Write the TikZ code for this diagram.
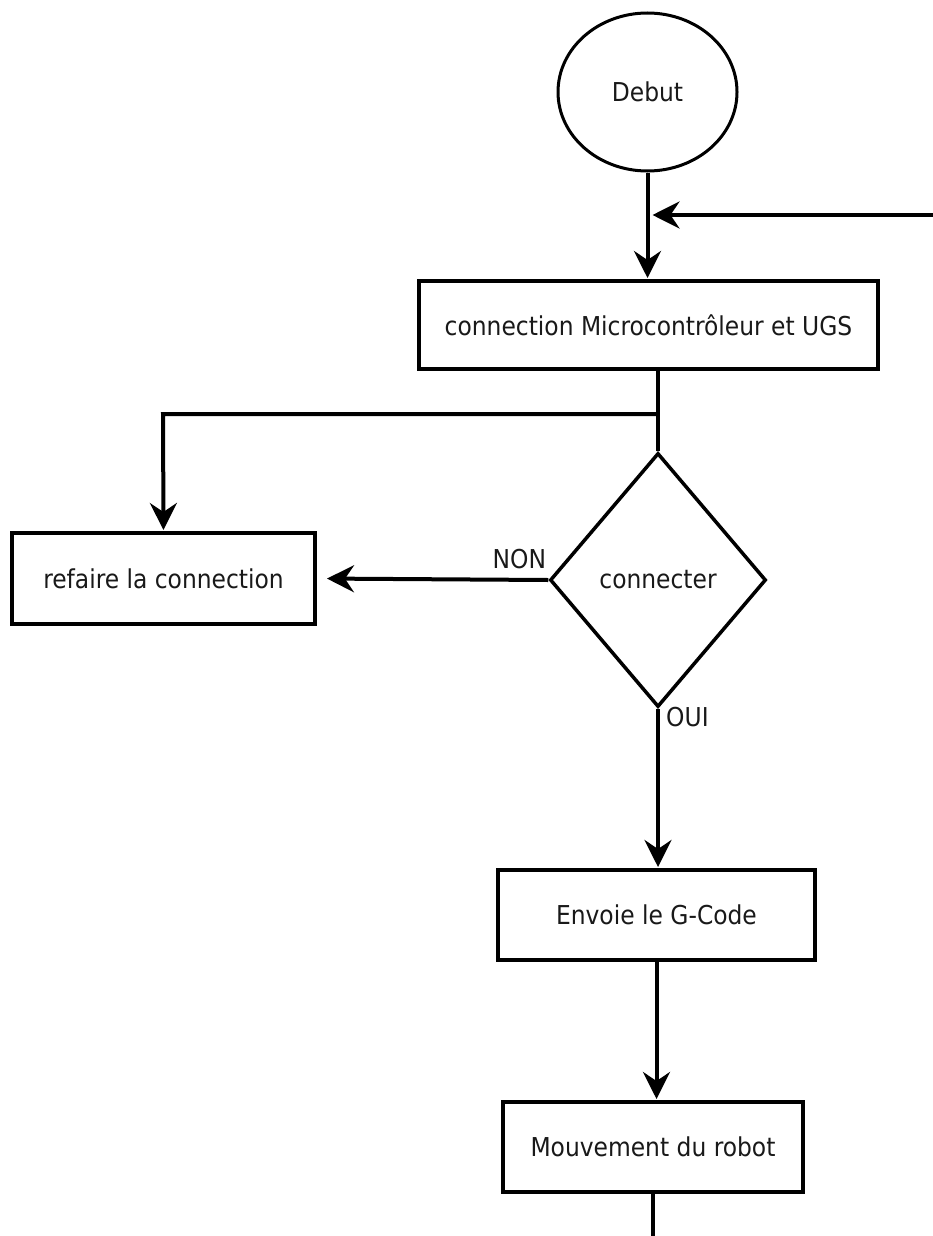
\documentclass[tikz,border=0pt]{standalone}
\usepackage{fontspec}
\setmainfont{DejaVu Sans Condensed}
\usetikzlibrary{shapes.geometric,arrows.meta}
\newlength{\du}
\setlength{\du}{1pt}
\tikzset{
  texte/.style={font=\fontsize{26}{31}\selectfont, text=black!90},
  boite/.style={texte, draw, line width=4\du, inner sep=0pt},
  debutfin/.style={texte, draw, ellipse, line width=3\du, inner sep=0pt},
  decision/.style={texte, draw, diamond, line width=3.5\du, inner sep=0pt},
  fleche/.style={line width=4\du, -{Stealth[length=27pt, width=27pt, inset=9pt]}},
  ligne/.style={line width=4\du}
}
\begin{document}
\begin{tikzpicture}[x=1\du, y=-1\du]
\useasboundingbox (0,0) rectangle (933,1236);
% formes
\node[debutfin, minimum width=179\du, minimum height=158\du] (debut) at (647.5,92){Debut};
\node[boite, minimum width=459\du, minimum height=88\du] (connexion) at (648.5,325){connection Microcontrôleur et UGS};
\node[decision, minimum width=216\du, minimum height=254\du] (connecter) at (658,580){connecter};
\node[boite, minimum width=303\du, minimum height=91\du] (refaire) at (163.5,578.5){refaire la connection};
\node[boite, minimum width=317\du, minimum height=90\du] (envoie) at (656.5,915){Envoie le G-Code};
\node[boite, minimum width=300\du, minimum height=90\du] (mouvement) at (653,1147){Mouvement du robot};
% points libres
\coordinate (retour) at (933,215);
\coordinate (branche) at (163,414);
\coordinate (fin) at (653,1236);
% liaisons
\draw[fleche, shorten >=1pt] (debut.south) -- (debut.south |- connexion.north);
\draw[fleche, shorten >=5pt] (retour) -- (debut.south |- retour);
\draw[ligne] (connecter.north) -- (connecter.north |- connexion.south);
\draw[fleche, shorten >=1pt] (connecter.north |- branche) -- (branche) -- (refaire.north);
\draw[fleche, shorten >=10pt] (connecter.west) -- (refaire.east);
\draw[fleche, shorten >=1pt] (connecter.south) -- (connecter.south |- envoie.north);
\draw[fleche, shorten >=1pt] (envoie.south) -- (envoie.south |- mouvement.north);
\draw[ligne] (mouvement.south) -- (fin);
% etiquettes
\node[texte, anchor=south east, inner sep=2\du, yshift=9\du] (non) at (connecter.west){NON};
\node[texte, anchor=west, inner sep=2\du] (oui) at (664,717){OUI};
\end{tikzpicture}
\end{document}
